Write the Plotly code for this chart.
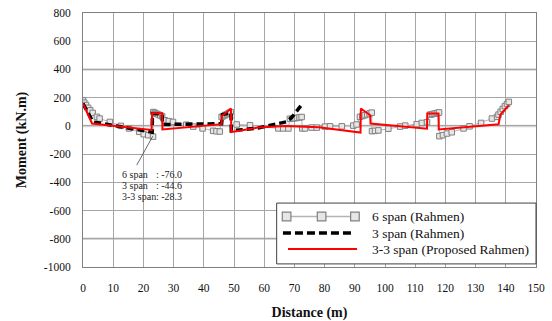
import plotly.graph_objects as go

# ---------------- data ----------------
x_6span = [0.0, 0.4, 1.0, 1.7, 2.4, 3.2, 4.6, 5.5, 8.9, 12.5, 15.2, 18.6, 20.1, 21.6, 23.2,
           23.3, 23.8, 24.4, 25.0, 25.6, 26.2,
           27.1, 28.4, 29.8, 34.2, 36.5, 39.6, 43.1, 44.2, 45.3,
           45.9, 46.5, 47.1, 47.7, 48.3, 48.9,
           50.9, 55.3, 64.7, 66.3, 68.0,
           68.5, 69.3, 70.1, 70.9, 71.7, 72.4,
           72.6, 73.5, 75.7, 77.4, 80.1, 81.8, 85.7, 89.5, 90.6,
           91.7, 92.5, 93.3, 94.1, 94.9, 95.6,
           95.7, 96.7, 97.8, 101.1, 105.0, 106.7, 110.5, 112.2, 113.9,
           115.0, 115.6, 116.2, 116.8, 117.4, 117.9,
           118.0, 119.2, 120.5, 122.1, 126.0, 128.0, 131.8, 135.4, 137.1,
           137.6, 138.3, 139.0, 139.7, 140.4, 141.0]
y_6span = [181, 165, 148, 128, 110, 92, 64, 52, 28, 0, -18, -42, -59, -66, -76,
           98, 92, 86, 80, 74, 68,
           40, 34, 28, 8, -5, -18, -35, -38, -40,
           64, 70, 77, 84, 91, 98,
           10, 5, -18, -18, -18,
           50, 52, 54, 57, 60, 63,
           -18, -18, -12, -12, -5, -3, -3, 2, 10,
           64, 70, 76, 82, 88, 94,
           -37, -35, -32, -20, -5, 2, 12, 21, 26,
           80, 83, 86, 89, 92, 95,
           -73, -66, -54, -45, -18, -3, 21, 52, 64,
           80, 100, 120, 140, 155, 170]

x_3span = [0.0, 3.3, 22.9, 23.0, 26.2, 26.3, 45.9, 46.2, 49.0, 49.1, 58.0, 67.5, 69.1, 72.4]
y_3span = [158, 28, -44.6, 88, 85, 10, 15, 80, 95, -35, -15, 30, 60, 150]

x_33span = [0.0, 3.0, 22.7, 22.9, 26.2, 26.3, 45.9, 46.0, 49.0, 49.1, 58.0, 67.0, 78.0,
            91.9, 92.0, 95.1, 95.2, 113.9, 114.0, 117.7, 117.8, 137.6, 138.2, 141.0]
y_33span = [158, 17, -28.3, 92, 90, -25, 12, 70, 123, -44, -12, 0, -10,
            -47, 123, 76, 17, -20, 88, 88, -25, 12, 80, 146]

series_names = ["6 span (Rahmen)", "3 span (Rahmen)", "3-3 span (Proposed Rahmen)"]
min_labels = ["6 span", "3 span", "3-3 span"]
min_values = [-76.0, -44.6, -28.3]

x_ticks = list(range(0, 151, 10))
y_ticks = list(range(-1000, 801, 200))

FONT = "Liberation Serif"

fig = go.Figure()
fig.add_trace(go.Scatter(
    x=x_6span, y=y_6span, mode="lines+markers", name=series_names[0],
    line=dict(color="#b4b4b4", width=1),
    marker=dict(symbol="square", size=5.5, color="#e6e6e6",
                line=dict(color="#808080", width=1)),
    showlegend=False))
fig.add_trace(go.Scatter(
    x=x_3span, y=y_3span, mode="lines", name=series_names[1],
    line=dict(color="black", width=3.5, dash="7px,4px"), showlegend=False))
fig.add_trace(go.Scatter(
    x=x_33span, y=y_33span, mode="lines", name=series_names[2],
    line=dict(color="#ff0000", width=2), showlegend=False))

# light (heavier) horizontal lines at 0, 400, -800
for yv in [0, 400, -800]:
    fig.add_shape(type="line", xref="paper", x0=0, x1=1, yref="y", y0=yv, y1=yv,
                  line=dict(color="#d4d4d4", width=2.5), layer="below")

# annotation for minimum values
fig.add_shape(type="line", xref="x", yref="y", x0=23.1, y0=-73, x1=17.8, y1=-278,
              line=dict(color="#404040", width=0.8))
ann_y = [-343, -419, -502]
for lab, val, yy in zip(min_labels, min_values, ann_y):
    fig.add_annotation(x=12.2, y=yy, xref="x", yref="y", text=lab, showarrow=False,
                       xanchor="left", yanchor="middle",
                       font=dict(family=FONT, size=10, color="#222"))
    fig.add_annotation(x=23.6, y=yy, xref="x", yref="y", text=": %.1f" % val,
                       showarrow=False, xanchor="left", yanchor="middle",
                       font=dict(family=FONT, size=10, color="#222"))

# ---------- manual legend (paper coords) ----------
fig.add_shape(type="rect", xref="paper", yref="paper", x0=0.4275, x1=1.0, y0=0.0122, y1=0.2517,
              line=dict(color="#404040", width=1), fillcolor="white", layer="above")
leg_y = [0.1988, 0.1336, 0.0707]
fig.add_shape(type="line", xref="paper", yref="paper", x0=0.4414, x1=0.6073, y0=leg_y[0], y1=leg_y[0],
              line=dict(color="#b4b4b4", width=1.5), layer="above")
for cx in [0.4494, 0.5267, 0.6003]:
    fig.add_shape(type="rect", xref="paper", yref="paper",
                  x0=cx - 0.0095, x1=cx + 0.0095, y0=leg_y[0] - 0.017, y1=leg_y[0] + 0.017,
                  line=dict(color="#808080", width=1.2), fillcolor="#e6e6e6", layer="above")
fig.add_shape(type="line", xref="paper", yref="paper", x0=0.4414, x1=0.5967, y0=leg_y[1], y1=leg_y[1],
              line=dict(color="black", width=3.5, dash="8px,4px"), layer="above")
fig.add_shape(type="line", xref="paper", yref="paper", x0=0.4525, x1=0.6050, y0=leg_y[2], y1=leg_y[2],
              line=dict(color="#ff0000", width=2), layer="above")
for name, ly in zip(series_names, leg_y):
    fig.add_annotation(x=0.6336, y=ly, xref="paper", yref="paper", text=name, showarrow=False,
                       xanchor="left", yanchor="middle",
                       font=dict(family=FONT, size=13.5, color="#111"))

fig.update_layout(
    width=552, height=321,
    margin=dict(l=83, r=16, t=13, b=54, autoexpand=False),
    paper_bgcolor="white", plot_bgcolor="white",
    font=dict(family=FONT, size=11, color="#111"),
    showlegend=False,
)
fig.update_xaxes(
    range=[0, 150], tickvals=x_ticks, ticktext=[str(v) for v in x_ticks],
    showgrid=True, gridcolor="#a6a6a6", gridwidth=1,
    showline=True, linecolor="#808080", linewidth=1, mirror=True,
    zeroline=False, ticks="", ticklabelstandoff=10, automargin=False,
    tickfont=dict(family=FONT, size=11.5),
    title=dict(text="<b>Distance (m)</b>", font=dict(family=FONT, size=14), standoff=18),
)
fig.update_yaxes(
    range=[-1000, 800], tickvals=y_ticks, ticktext=[str(v) for v in y_ticks],
    showgrid=True, gridcolor="#a6a6a6", gridwidth=1,
    showline=True, linecolor="#808080", linewidth=1, mirror=True,
    zeroline=False, ticks="", ticklabelstandoff=9, automargin=False,
    tickfont=dict(family=FONT, size=11.5),
    title=dict(text="<b>Moment (kN.m)</b>", font=dict(family=FONT, size=14), standoff=13),
)

fig.write_html("out.html")
